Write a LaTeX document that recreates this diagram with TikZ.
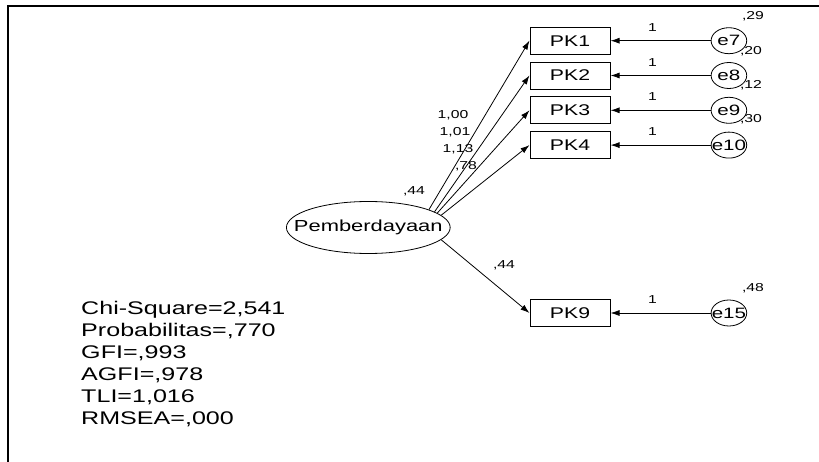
\documentclass[tikz,border=0pt]{standalone}
\usepackage{fontspec}
\setmainfont{Liberation Sans}
\usetikzlibrary{arrows.meta,positioning,shapes.geometric}

\begin{document}
\begin{tikzpicture}[x=1pt,y=-1pt,>={Latex[length=9pt,width=6pt]},node distance=7pt,line width=.8pt,
  wide/.style={xscale=1.37},
  ind/.style={wide,draw,rectangle,minimum width=58.4pt,minimum height=27pt,inner sep=0pt,font=\fontsize{15.5}{18}\selectfont},
  err/.style={wide,draw,circle,minimum size=26pt,inner sep=-5pt,font=\fontsize{15}{19}\selectfont},
  lat/.style={wide,draw,ellipse,minimum width=118pt,minimum height=52pt,inner xsep=-12pt,inner ysep=0pt,font=\fontsize{16}{19}\selectfont},
  est/.style={wide,inner sep=0pt,font=\fontsize{11.5}{13}\selectfont},
  stats/.style={wide,inner sep=0pt,align=left,font=\fontsize{18.3}{22.1}\selectfont}]
\useasboundingbox (0,0) rectangle (819,462);
\draw[line width=2pt] (8.3,462) -- (8.3,6.3) -- (819,6.3);
% latent variable and indicators
\node[lat] (pem) at (368.3,227.5) {Pemberdayaan};
\node[ind] (pk1) at (570,40.7) {PK1};
\node[ind,below=7pt of pk1] (pk2) {PK2};
\node[ind,below=7pt of pk2] (pk3) {PK3};
\node[ind,below=7pt of pk3] (pk4) {PK4};
\node[ind] (pk9) at (570,313) {PK9};
% error terms
\node[err,right=100pt of pk1] (e7) {e7};
\node[err,right=100pt of pk2] (e8) {e8};
\node[err,right=100pt of pk3] (e9) {e9};
\node[err,right=100pt of pk4] (e10) {e10};
\node[err,right=100pt of pk9] (e15) {e15};
\foreach \e/\p in {e7/pk1,e8/pk2,e9/pk3,e10/pk4,e15/pk9}
  \draw[->] (\e) -- node[est,pos=.58,above=9pt] (one\e) {1} (\p);
% loadings
\draw[->] (pem.22) -- (pk1.west);
\draw[->] (pem.18.5) -- (pk2.west);
\draw[->] (pem.16.3) -- (pk3.west);
\draw[->] (pem.13.1) -- (pk4.west);
\draw[->] (pem.-13.1) -- (pk9.west);
\node[est] (l100) at (453,115) {1,00};
\node[est] (l101) at (455,132) {1,01};
\node[est] (l113) at (458,149) {1,13};
\node[est] (l78) at (466,166.5) {,78};
\node[est] (v44a) at (414,191) {,44};
\node[est] (v44b) at (504,265) {,44};
% variances
\node[est] (v29) at (753,16) {,29};
\node[est] (v20) at (751,51) {,20};
\node[est] (v12) at (751,85) {,12};
\node[est] (v30) at (751,119) {,30};
\node[est] (v48) at (753,288) {,48};
% fit indices
\node[stats,anchor=north west] (gof) at (80.7,300.5) {Chi-Square=2,541\\Probabilitas=,770\\GFI=,993\\AGFI=,978\\TLI=1,016\\RMSEA=,000};
\end{tikzpicture}
\end{document}
